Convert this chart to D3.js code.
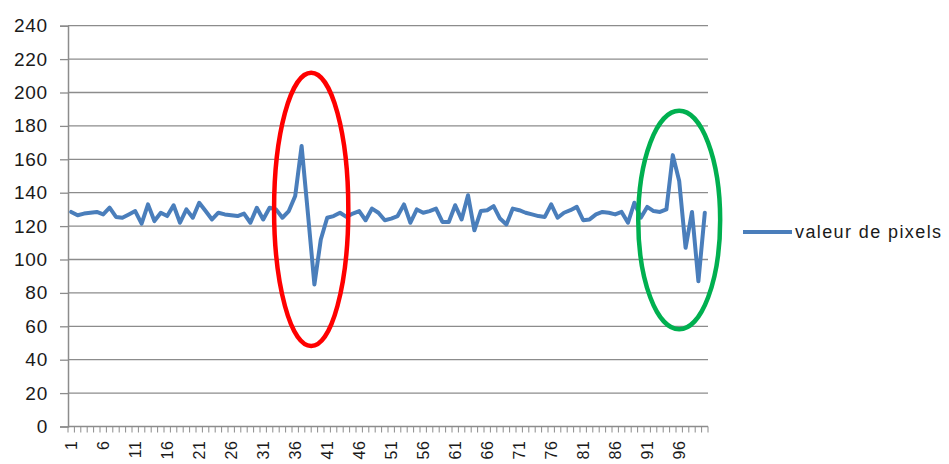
<!DOCTYPE html>
<html><head><meta charset="utf-8">
<script src="https://cdn.jsdelivr.net/npm/d3@7"></script>
<style>html,body{margin:0;padding:0;background:#fff;}svg{display:block;}</style>
</head><body>
<svg id="chart" width="949" height="464"></svg>
<script>
// ---- data ----
const categories = d3.range(1, 101);
const pixelValues = [
  128.5,126.5,127.5,128,128.5,127,131,125.5,125,127,
  129,121.5,133,123,128,126,132.5,122,130,125,
  134,129,124,128,127,126.5,126,127.5,122,131,
  124,131,130,125,129,138,168,127,85,112,
  125,126,128,125.5,127.5,129,123.5,130.5,128,123.5,
  124.5,126,133,122,130,128,129,130.5,122.5,122.5,
  132.5,124,138.5,117.5,129,129.5,132,124.5,121,130.5,
  129.5,128,127,126,125.5,133,125,128,129.5,131.5,
  123.5,124,127,128.5,128,127,128.5,122,134,125,
  131.5,129,128.5,130,162.5,147,107,128.5,87,128
];
const yTicks = [0,20,40,60,80,100,120,140,160,180,200,220,240];
const xTickLabels = categories.filter(d => (d - 1) % 5 === 0);
const seriesName = "valeur de pixels";
// annotation ellipses in data units: center category, center value, half-width (categories), half-height (value units)
const annotCx = [38.5, 96];
const annotCy = [130, 123.6];
const annotRx = [5.8, 6.4];
const annotRy = [81.8, 65.4];
const annotColor = ["#ff0000", "#00b050"];

// ---- layout ----
const svg = d3.select("#chart");
const mLeft = 68, mRight = 708, mTop = 25.7, mBottom = 426.5;

const x = d3.scaleBand().domain(categories).range([mLeft, mRight]).padding(0);
const xl = d3.scaleLinear().domain([0.5, 100.5]).range([mLeft, mRight]);
const y = d3.scaleLinear().domain([0, 240]).range([mBottom, mTop]);

const gridColor = "#8c8c8c";
const font = "'Liberation Sans', Arial, sans-serif";

// gridlines
svg.append("g").selectAll("line").data(yTicks.filter(d => d > 0)).join("line")
  .attr("x1", mLeft).attr("x2", mRight)
  .attr("y1", d => y(d)).attr("y2", d => y(d))
  .attr("stroke", gridColor).attr("stroke-width", 1.3);

// y axis
const yAxis = svg.append("g").attr("transform", `translate(${mLeft},0)`)
  .call(d3.axisLeft(y).tickValues(yTicks).tickSize(8).tickPadding(12));
yAxis.select(".domain").attr("stroke", gridColor).attr("stroke-width", 1.5);
yAxis.selectAll(".tick line").attr("stroke", gridColor).attr("stroke-width", 1.3);
yAxis.selectAll(".tick text").attr("font-family", font).attr("font-size", 19).attr("fill", "#1a1a1a")
  .attr("letter-spacing", 0.8);

// x axis: domain line + ticks at category boundaries
const xg = svg.append("g");
xg.append("line").attr("x1", mLeft).attr("x2", mRight).attr("y1", mBottom).attr("y2", mBottom)
  .attr("stroke", gridColor).attr("stroke-width", 1.5);
xg.selectAll("line.tk").data(d3.range(0, 101)).join("line").attr("class", "tk")
  .attr("x1", d => xl(d + 0.5)).attr("x2", d => xl(d + 0.5))
  .attr("y1", mBottom).attr("y2", mBottom + 6)
  .attr("stroke", gridColor).attr("stroke-width", 1);
xg.selectAll("text").data(xTickLabels).join("text")
  .attr("transform", d => `translate(${x(d) + x.bandwidth() / 2},${mBottom + 14}) rotate(-90)`)
  .attr("text-anchor", "end").attr("dy", "0.35em")
  .attr("font-family", font).attr("font-size", 16).attr("fill", "#1a1a1a")
  .attr("letter-spacing", 0.6)
  .text(d => d);

// series line
const line = d3.line()
  .x((d, i) => x(categories[i]) + x.bandwidth() / 2)
  .y(d => y(d));
svg.append("path").datum(pixelValues)
  .attr("d", line).attr("fill", "none")
  .attr("stroke", "#4a7ebb").attr("stroke-width", 4)
  .attr("stroke-linejoin", "round").attr("stroke-linecap", "round");

// annotation ellipses
svg.append("g").selectAll("ellipse").data(annotCx).join("ellipse")
  .attr("cx", d => xl(d))
  .attr("cy", (d, i) => y(annotCy[i]))
  .attr("rx", (d, i) => xl(d + annotRx[i]) - xl(d))
  .attr("ry", (d, i) => y(0) - y(annotRy[i]))
  .attr("fill", "none")
  .attr("stroke", (d, i) => annotColor[i]).attr("stroke-width", 4.5);

// legend
const lg = svg.append("g").attr("transform", "translate(743,232)");
lg.append("line").attr("x1", 0).attr("x2", 49).attr("y1", 0).attr("y2", 0)
  .attr("stroke", "#4a7ebb").attr("stroke-width", 4);
lg.append("text").attr("x", 52).attr("y", 0).attr("dy", "0.35em")
  .attr("font-family", font).attr("font-size", 18).attr("fill", "#1a1a1a")
  .attr("letter-spacing", 1.4)
  .text(seriesName);
</script>
</body></html>
